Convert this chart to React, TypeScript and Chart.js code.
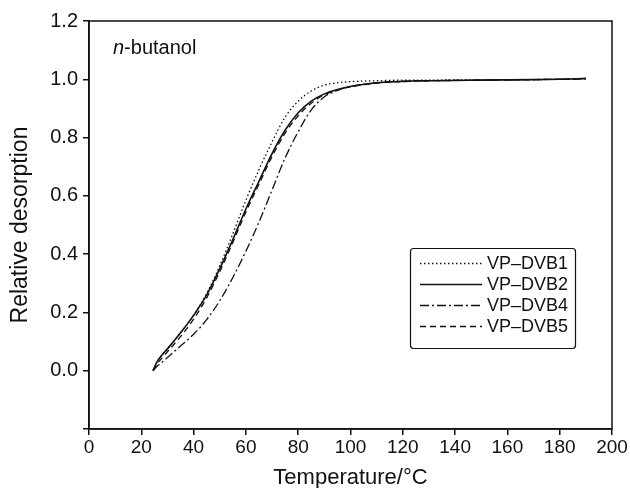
import { useEffect, useRef } from "react";
import { Chart, registerables } from "chart.js";

Chart.register(...registerables);

const FONT = "'Liberation Sans', Arial, Helvetica, sans-serif";

const temperatures = [24.5, 26, 28, 30, 35, 40, 45, 50, 55, 60, 65, 70, 75, 80, 85, 90, 95, 100, 110, 120, 130, 140, 150, 160, 170, 180, 190];
const vpDvb1 = [0, 0.03, 0.055, 0.075, 0.13, 0.19, 0.265, 0.36, 0.47, 0.585, 0.69, 0.785, 0.87, 0.925, 0.96, 0.98, 0.988, 0.992, 0.995, 0.997, 0.997, 0.998, 0.998, 0.999, 0.999, 1.0, 1.002];
const vpDvb2 = [0, 0.03, 0.055, 0.075, 0.13, 0.19, 0.26, 0.35, 0.45, 0.555, 0.65, 0.745, 0.825, 0.885, 0.925, 0.95, 0.965, 0.975, 0.988, 0.993, 0.995, 0.996, 0.997, 0.998, 0.999, 1.0, 1.003];
const vpDvb4 = [0, 0.015, 0.03, 0.045, 0.085, 0.125, 0.175, 0.24, 0.32, 0.41, 0.51, 0.62, 0.73, 0.82, 0.895, 0.94, 0.962, 0.975, 0.988, 0.993, 0.995, 0.996, 0.997, 0.998, 0.999, 1.0, 1.002];
const vpDvb5 = [0, 0.022, 0.045, 0.065, 0.117, 0.177, 0.25, 0.34, 0.44, 0.545, 0.64, 0.735, 0.815, 0.875, 0.918, 0.947, 0.963, 0.974, 0.987, 0.992, 0.995, 0.996, 0.997, 0.998, 0.999, 1.0, 1.002];

const seriesNames = ["VP\u2013DVB1", "VP\u2013DVB2", "VP\u2013DVB4", "VP\u2013DVB5"];
const seriesValues = [vpDvb1, vpDvb2, vpDvb4, vpDvb5];
const seriesDashes: number[][] = [[1.5, 2.5], [], [9, 3, 2, 3], [6, 4]];
const seriesWidths = [1.3, 1.6, 1.3, 1.3];

const xMin = 0;
const xMax = 200;
const xStep = 20;
const yMin = -0.2;
const yMax = 1.2;
const yStep = 0.2;

const xTitle = "Temperature/\u00b0C";
const yTitle = "Relative desorption";
const annotationItalic = "n";
const annotationRest = "-butanol";

const framePlugin = {
  id: "frameAndLegend",
  afterDraw(chart: any) {
    const { ctx, chartArea } = chart;
    ctx.save();
    ctx.strokeStyle = "#111";
    ctx.lineWidth = 1.5;
    ctx.setLineDash([]);
    ctx.strokeRect(chartArea.left, chartArea.top, chartArea.right - chartArea.left, chartArea.bottom - chartArea.top);

    // annotation
    ctx.fillStyle = "#111";
    ctx.textBaseline = "middle";
    ctx.textAlign = "left";
    ctx.font = `italic 20px ${FONT}`;
    const ax = chartArea.left + 24;
    const ay = chartArea.top + 27;
    ctx.fillText(annotationItalic, ax, ay);
    const w = ctx.measureText(annotationItalic).width;
    ctx.font = `20px ${FONT}`;
    ctx.fillText(annotationRest, ax + w, ay);

    // legend
    const bx = 410.5, by = 248.5, bw = 165, bh = 100, r = 3;
    ctx.lineWidth = 1.2;
    ctx.beginPath();
    ctx.moveTo(bx + r, by);
    ctx.lineTo(bx + bw - r, by);
    ctx.quadraticCurveTo(bx + bw, by, bx + bw, by + r);
    ctx.lineTo(bx + bw, by + bh - r);
    ctx.quadraticCurveTo(bx + bw, by + bh, bx + bw - r, by + bh);
    ctx.lineTo(bx + r, by + bh);
    ctx.quadraticCurveTo(bx, by + bh, bx, by + bh - r);
    ctx.lineTo(bx, by + r);
    ctx.quadraticCurveTo(bx, by, bx + r, by);
    ctx.stroke();

    ctx.font = `18px ${FONT}`;
    chart.data.datasets.forEach((ds: any, i: number) => {
      const yy = 263 + i * 21;
      ctx.beginPath();
      ctx.setLineDash(ds.borderDash || []);
      ctx.lineWidth = ds.borderWidth;
      ctx.strokeStyle = ds.borderColor;
      ctx.moveTo(420, yy + 0.5);
      ctx.lineTo(482, yy + 0.5);
      ctx.stroke();
      ctx.setLineDash([]);
      ctx.fillText(ds.label, 487, yy + 1);
    });
    ctx.restore();
  },
};

export default function App() {
  const ref = useRef<HTMLCanvasElement>(null);
  useEffect(() => {
    if (!ref.current) return;
    const chart = new Chart(ref.current, {
      type: "line",
      data: {
        datasets: seriesNames.map((name, i) => ({
          label: name,
          data: temperatures.map((t, j) => ({ x: t, y: seriesValues[i][j] })),
          borderColor: "#111",
          borderWidth: seriesWidths[i],
          borderDash: seriesDashes[i],
          pointRadius: 0,
          fill: false,
          cubicInterpolationMode: "monotone" as const,
        })),
      },
      options: {
        responsive: false,
        animation: false,
        layout: { padding: { left: 0, right: 18, top: 21, bottom: 0 } },
        plugins: { legend: { display: false }, tooltip: { enabled: false } },
        scales: {
          x: {
            type: "linear",
            min: xMin,
            max: xMax,
            ticks: {
              stepSize: xStep,
              color: "#111",
              font: { family: FONT, size: 19 },
              padding: 1,
              maxRotation: 0,
            },
            grid: { display: true, drawOnChartArea: false, drawTicks: true, tickLength: 6, color: "#111", lineWidth: 1.5 },
            border: { display: true, color: "#111", width: 1.5 },
            title: { display: true, text: xTitle, color: "#111", font: { family: FONT, size: 22, lineHeight: 0.9 }, padding: { top: 0, bottom: 0 } },
            afterFit(scale: any) {
              scale.height = 59;
            },
          },
          y: {
            type: "linear",
            min: yMin,
            max: yMax,
            ticks: {
              stepSize: yStep,
              color: "#111",
              font: { family: FONT, size: 20 },
              padding: 5,
              callback: (v: any) => {
                const r = Math.round(Number(v) * 10) / 10;
                if (Math.abs(r - yMin) < 1e-6) return "";
                return (r === 0 ? 0 : r).toFixed(1);
              },
            },
            grid: { display: true, drawOnChartArea: false, drawTicks: true, tickLength: 6, color: "#111", lineWidth: 1.5 },
            border: { display: true, color: "#111", width: 1.5 },
            title: { display: true, text: yTitle, color: "#111", font: { family: FONT, size: 23 }, padding: { top: 7, bottom: 0 } },
            afterFit(scale: any) {
              scale.width = 89;
            },
          },
        },
      },
      plugins: [framePlugin],
    });
    return () => chart.destroy();
  }, []);
  return (
    <div style={{ position: "fixed", left: 0, top: 0, width: 630, height: 488, background: "#fff" }}>
      <canvas ref={ref} width={630} height={488} style={{ width: 630, height: 488 }} />
    </div>
  );
}
